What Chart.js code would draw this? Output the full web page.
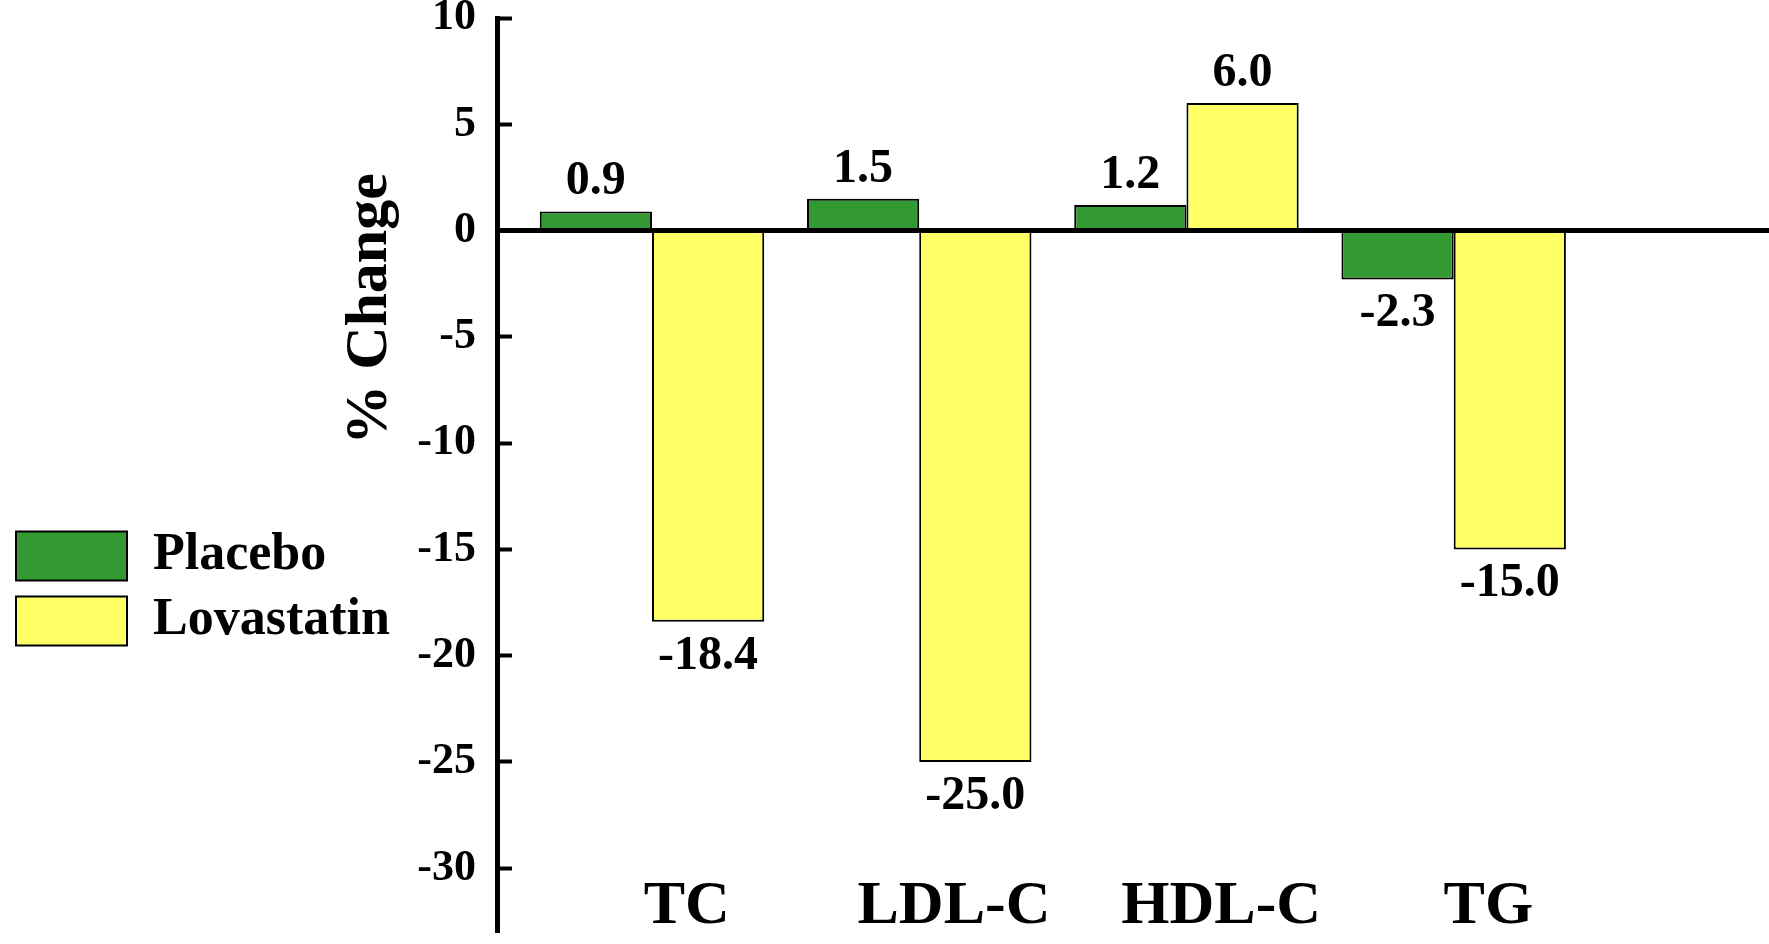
<!DOCTYPE html>
<html><head><meta charset="utf-8">
<script src="https://cdn.jsdelivr.net/npm/chart.js@4.4.1/dist/chart.umd.min.js"></script>
<style>html,body{margin:0;padding:0;background:#fff;}canvas{display:block}</style>
</head><body>
<canvas id="c" width="1769" height="944"></canvas>
<script>
const categories = ['TC', 'LDL-C', 'HDL-C', 'TG'];
const seriesNames = ['Placebo', 'Lovastatin'];
const placebo = [0.9, 1.5, 1.2, -2.3];
const lovastatin = [-18.4, -25.0, 6.0, -15.0];
const yTicks = [10, 5, 0, -5, -10, -15, -20, -25, -30];
const yTitle = '% Change';

const FONT = "'Liberation Serif', 'Times New Roman', serif";
const AXIS_X = 497;
const PAD_LEFT = 3;
const LABEL_SHIFT = 0.13;

const valueLabels = {
  id: 'valueLabels',
  afterDatasetsDraw(chart) {
    const ctx = chart.ctx;
    ctx.save();
    ctx.fillStyle = '#000';
    ctx.font = 'bold 48px ' + FONT;
    ctx.textAlign = 'center';
    ctx.textBaseline = 'alphabetic';
    chart.data.datasets.forEach((ds, di) => {
      const meta = chart.getDatasetMeta(di);
      meta.data.forEach((el, i) => {
        const v = ds.data[i].y;
        const t = v.toFixed(1);
        if (v >= 0) ctx.fillText(t, el.x, el.y - 17);
        else ctx.fillText(t, el.x, el.y + 14 + 33);
      });
    });
    ctx.restore();
  }
};

const yTitlePlugin = {
  id: 'yTitlePlugin',
  afterDraw(chart) {
    const ctx = chart.ctx;
    ctx.save();
    ctx.translate(370, 309);
    ctx.rotate(-Math.PI / 2);
    ctx.fillStyle = '#000';
    ctx.font = 'bold 60px ' + FONT;
    ctx.textAlign = 'center';
    ctx.textBaseline = 'middle';
    ctx.fillText(yTitle, 0, 0);
    ctx.restore();
  }
};

new Chart(document.getElementById('c'), {
  type: 'bar',
  data: {
    datasets: [
      {
        label: seriesNames[0],
        data: placebo.map((v, i) => ({ x: i, y: v })),
        backgroundColor: '#339933',
        borderColor: '#000',
        borderWidth: 2,
        categoryPercentage: 0.84,
        barPercentage: 1.0
      },
      {
        label: seriesNames[1],
        data: lovastatin.map((v, i) => ({ x: i, y: v })),
        backgroundColor: '#FFFF66',
        borderColor: '#000',
        borderWidth: 2,
        categoryPercentage: 0.84,
        barPercentage: 1.0
      }
    ]
  },
  options: {
    responsive: false,
    devicePixelRatio: 1,
    animation: false,
    layout: { padding: { top: 18, left: PAD_LEFT, right: 0, bottom: 12 } },
    plugins: {
      tooltip: { enabled: false },
      legend: {
        position: 'left',
        align: 'start',
        title: { display: true, text: '', font: { size: 10 }, padding: { top: 0, bottom: 487 } },
        labels: {
          boxWidth: 111,
          boxHeight: 49,
          padding: 13,
          color: '#000',
          font: { family: FONT, size: 52, weight: 'bold' }
        }
      }
    },
    scales: {
      x: {
        type: 'linear',
        offset: false,
        bounds: 'data',
        min: -0.58,
        max: 4.18,
        afterBuildTicks(s) { s.ticks = categories.map((c, i) => ({ value: i + LABEL_SHIFT })); },
        afterFit(s) { s.paddingLeft = 0; s.paddingRight = 0; },
        grid: { display: false, drawTicks: false, offset: false },
        border: { display: false },
        ticks: {
          autoSkip: false,
          maxRotation: 0,
          padding: -62,
          color: '#000',
          font: { family: FONT, size: 62, weight: 'bold' },
          callback: (v) => categories[Math.round(v - LABEL_SHIFT)]
        }
      },
      y: {
        min: -33,
        max: 10,
        afterBuildTicks(s) { s.ticks = yTicks.map(v => ({ value: v })); },
        afterFit(s) {
          const lw = s.chart.legend ? s.chart.legend.width : 400;
          s.width = AXIS_X - PAD_LEFT - lw;
          s.paddingTop = 0;
          s.paddingBottom = 0;
        },
        grid: {
          drawOnChartArea: true,
          drawTicks: true,
          tickLength: -15,
          tickWidth: 4,
          tickColor: '#000',
          color: (c) => (c.tick && c.tick.value === 0) ? '#000' : 'rgba(0,0,0,0)',
          lineWidth: (c) => (c.tick && c.tick.value === 0) ? 5 : 1
        },
        border: { display: true, color: '#000', width: 5 },
        ticks: {
          padding: 36,
          color: '#000',
          font: { family: FONT, size: 44, weight: 'bold' },
          callback: (v) => String(v)
        }
      }
    }
  },
  plugins: [valueLabels, yTitlePlugin]
});
</script>
</body></html>
